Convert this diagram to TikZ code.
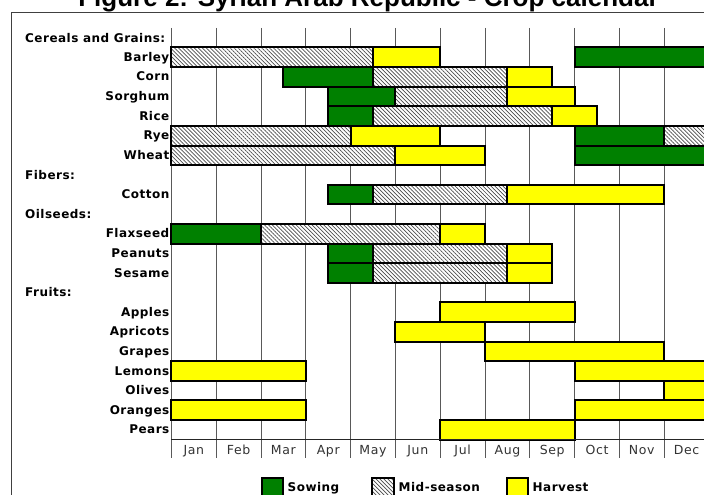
\documentclass[tikz,border=0pt]{standalone}
\usepackage{fontspec}
\usetikzlibrary{patterns.meta}
\newfontfamily\titlefont{Liberation Sans}
\newfontfamily\lblfont[LetterSpace=4]{DejaVu Sans}
\newfontfamily\monthfont[LetterSpace=5]{DejaVu Sans}
\definecolor{sowgreen}{RGB}{0,128,0}
\definecolor{harvyellow}{RGB}{255,255,0}
\tikzset{
  sow/.style={fill=sowgreen, draw=black, line width=2pt},
  midhatch/.style={pattern={Lines[angle=-45,distance=2.8pt,line width=0.7pt]}, pattern color=black!70},
  harv/.style={fill=harvyellow, draw=black, line width=2pt},
  rowlabel/.style={anchor=base east, inner sep=0pt, font=\lblfont\bfseries\fontsize{12}{14}\selectfont},
  grouplabel/.style={anchor=base west, inner sep=0pt, font=\lblfont\bfseries\fontsize{12}{14}\selectfont},
  monthlabel/.style={anchor=base, inner sep=0pt, text=black!80, font=\monthfont\fontsize{12.5}{14}\selectfont},
  legendtext/.style={anchor=base west, inner sep=0pt, font=\lblfont\bfseries\fontsize{12}{14}\selectfont},
  gridline/.style={draw=black!65, line width=0.9pt},
}
\newcommand{\cropbar}[4]{%
  \pgfmathsetmacro{\cbxa}{171.4+44.8*#2}%
  \pgfmathsetmacro{\cbxb}{171.4+44.8*#3}%
  \pgfmathsetmacro{\cbya}{27.9+19.6*#1}%
  \pgfmathsetmacro{\cbyb}{\cbya+19.6}%
  \draw[#4] (\cbxa,\cbya) rectangle (\cbxb,\cbyb);%
}
\newcommand{\midbar}[3]{%
  \pgfmathsetmacro{\cbxa}{171.4+44.8*#2}%
  \pgfmathsetmacro{\cbxb}{171.4+44.8*#3}%
  \pgfmathsetmacro{\cbya}{27.9+19.6*#1}%
  \pgfmathsetmacro{\cbyb}{\cbya+19.6}%
  \fill[white] (\cbxa,\cbya) rectangle (\cbxb,\cbyb);%
  \fill[midhatch] (\cbxa,\cbya) rectangle (\cbxb,\cbyb);%
  \draw[black, line width=2pt] (\cbxa,\cbya) rectangle (\cbxb,\cbyb);%
}
\begin{document}
\begin{tikzpicture}[x=1pt, y=-1pt]
\useasboundingbox (0,0) rectangle (704,495);
\clip (0,0) rectangle (704,495);
\fill[white] (0,0) rectangle (704,495);
% frame
\draw[black!75, line width=1.3pt] (11.5,12.3) rectangle (730,520);
% title
\node[anchor=base, inner sep=0pt, font=\titlefont\bfseries\fontsize{26}{30}\selectfont] (title) at (368.5,7) {Figure 2: Syrian Arab Republic - Crop calendar};
% grid
\foreach \m in {0,...,12} {
  \draw[gridline] ({171.4+44.8*\m},28) -- ({171.4+44.8*\m},458);
}
% bars
\midbar{1}{0}{4.5}
\cropbar{1}{4.5}{6}{harv}
\cropbar{1}{9}{12}{sow}
\cropbar{2}{2.5}{4.5}{sow}
\midbar{2}{4.5}{7.5}
\cropbar{2}{7.5}{8.5}{harv}
\cropbar{3}{3.5}{5}{sow}
\midbar{3}{5}{7.5}
\cropbar{3}{7.5}{9}{harv}
\cropbar{4}{3.5}{4.5}{sow}
\midbar{4}{4.5}{8.5}
\cropbar{4}{8.5}{9.5}{harv}
\midbar{5}{0}{4}
\cropbar{5}{4}{6}{harv}
\cropbar{5}{9}{11}{sow}
\midbar{5}{11}{12}
\midbar{6}{0}{5}
\cropbar{6}{5}{7}{harv}
\cropbar{6}{9}{12}{sow}
\cropbar{8}{3.5}{4.5}{sow}
\midbar{8}{4.5}{7.5}
\cropbar{8}{7.5}{11}{harv}
\cropbar{10}{0}{2}{sow}
\midbar{10}{2}{6}
\cropbar{10}{6}{7}{harv}
\cropbar{11}{3.5}{4.5}{sow}
\midbar{11}{4.5}{7.5}
\cropbar{11}{7.5}{8.5}{harv}
\cropbar{12}{3.5}{4.5}{sow}
\midbar{12}{4.5}{7.5}
\cropbar{12}{7.5}{8.5}{harv}
\cropbar{14}{6}{9}{harv}
\cropbar{15}{5}{7}{harv}
\cropbar{16}{7}{11}{harv}
\cropbar{17}{0}{3}{harv}
\cropbar{17}{9}{12}{harv}
\cropbar{18}{11}{12}{harv}
\cropbar{19}{0}{3}{harv}
\cropbar{19}{9}{12}{harv}
\cropbar{20}{6}{9}{harv}
% axis line
\draw[black!85, line width=1.3pt] (171.4,439.2) -- (710,439.2);
% group labels
\node[grouplabel] (gcereals) at (25,42.1) {Cereals and Grains:};
\node[grouplabel] (gfibers) at (25,{42.1+19.6*7}) {Fibers:};
\node[grouplabel] (goil) at (25,{42.1+19.6*9}) {Oilseeds:};
\node[grouplabel] (gfruits) at (25,{42.1+19.6*13}) {Fruits:};
% row labels
\foreach \i/\t/\n in {1/Barley/barley,2/Corn/corn,3/Sorghum/sorghum,4/Rice/rice,5/Rye/rye,6/Wheat/wheat,8/Cotton/cotton,10/Flaxseed/flax,11/Peanuts/peanuts,12/Sesame/sesame,14/Apples/apples,15/Apricots/apricots,16/Grapes/grapes,17/Lemons/lemons,18/Olives/olives,19/Oranges/oranges,20/Pears/pears} {
  \node[rowlabel] (l\n) at (169.5,{41.8+19.6*\i}) {\t};
}
% month labels
\foreach \m/\t in {0/Jan,1/Feb,2/Mar,3/Apr,4/May,5/Jun,6/Jul,7/Aug,8/Sep,9/Oct,10/Nov,11/Dec} {
  \node[monthlabel] (m\t) at ({171.4+44.8*\m+22.4},454.3) {\t};
}
% legend
\draw[sow] (261.5,477.5) rectangle (283,499);
\node[legendtext] (tsow) at (287.5,491.8) {Sowing};
\fill[white] (372,477.5) rectangle (393.5,499);
\fill[midhatch] (372,477.5) rectangle (393.5,499);
\draw[black, line width=2pt] (372,477.5) rectangle (393.5,499);
\node[legendtext] (tmid) at (398.5,491.8) {Mid-season};
\draw[harv] (506.5,477.5) rectangle (528,499);
\node[legendtext] (tharv) at (532.5,491.8) {Harvest};
\end{tikzpicture}
\end{document}
